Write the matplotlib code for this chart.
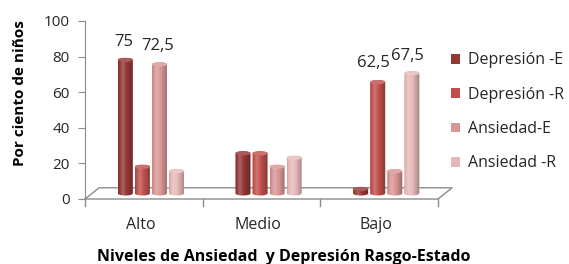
import matplotlib.pyplot as plt
import matplotlib.patches as patches
from matplotlib.path import Path
import matplotlib.colors as mcolors
import numpy as np

# ---------------------------------------------------------
# data
# ---------------------------------------------------------
categories = ['Alto', 'Medio', 'Bajo']
series_names = ['Depresión -E', 'Depresión -R', 'Ansiedad-E', 'Ansiedad -R']
depresion_e = [75, 22.5, 2.5]
depresion_r = [15, 22.5, 62.5]
ansiedad_e = [72.5, 15, 12.5]
ansiedad_r = [12.5, 20, 67.5]
# which bars carry a value label: (series index, category index, text)
value_labels = [(0, 0, '75'), (2, 0, '72,5'), (1, 2, '62,5'), (3, 2, '67,5')]

COLORS = ['#953735', '#C0504D', '#D99694', '#E6B9B8']
label_offsets = {(0, 0): (-1, 11), (2, 0): (-1, 12), (1, 2): (-3, 12), (3, 2): (-3, 11)}

FONT = 'Open Sans'
GRAY = '#8c8c8c'
TXT = '#262626'

# 3d look: depth shift of the floor (x in category units, y in percent)
DX, DY = 0.12, 6.3
BAR_W, BAR_STEP = 0.128, 0.145
EH = 1.2  # half height of the ellipse caps


def shade(color, k):
    c = np.array(mcolors.to_rgb(color))
    if k >= 0:
        return c + (1 - c) * k
    return c * (1 + k)


def cylinder(ax, xc, base, top, color):
    x0, x1 = xc - BAR_W / 2, xc + BAR_W / 2
    t1 = np.linspace(np.pi, 2 * np.pi, 30)
    t2 = np.linspace(0, np.pi, 30)
    verts = [(xc + BAR_W / 2 * np.cos(t), base + EH * np.sin(t)) for t in t1]
    verts += [(xc + BAR_W / 2 * np.cos(t), top + EH * np.sin(t)) for t in t2]
    verts.append(verts[0])
    codes = [Path.MOVETO] + [Path.LINETO] * (len(verts) - 2) + [Path.CLOSEPOLY]
    outline = patches.PathPatch(Path(verts, codes), facecolor='none', edgecolor='none')
    ax.add_patch(outline)

    # horizontal gradient across the cylinder body
    ts = np.linspace(0, 1, 60)
    ks = np.interp(ts, [0, 0.3, 0.55, 1], [-0.12, 0.22, 0.0, -0.3])
    img = np.array([[shade(color, k) for k in ks]])
    im = ax.imshow(img, extent=[x0, x1, base - EH, top + EH], aspect='auto',
                   interpolation='bilinear', zorder=3)
    im.set_clip_path(outline)

    cap = patches.Ellipse((xc, top), BAR_W, 2 * EH, facecolor=shade(color, 0.18),
                          edgecolor='none', zorder=4)
    ax.add_patch(cap)


fig = plt.figure(figsize=(5.69, 2.64), dpi=100)
ax = fig.add_axes([85 / 569, 65 / 264, 353 / 569, 178 / 264])
ax.set_xlim(0, 3)
ax.set_ylim(0, 100)

for s in ['top', 'right', 'bottom']:
    ax.spines[s].set_visible(False)
ax.spines['left'].set_color(GRAY)
ax.spines['left'].set_bounds(0, 100)

ax.set_yticks(range(0, 101, 20))
ax.tick_params(axis='y', length=5, color=GRAY, labelsize=11, pad=6)
for lbl in ax.get_yticklabels():
    lbl.set_fontfamily(FONT)
    lbl.set_color(TXT)

ax.set_xticks([0.476, 1.47, 2.47])
ax.set_xticklabels(categories, fontsize=11.5, fontfamily=FONT, color=TXT)
ax.tick_params(axis='x', length=0, pad=13)
for xb in range(4):
    ax.plot([xb, xb], [0, -3.8], color=GRAY, lw=1, clip_on=False)

# floor
floor_x = [0, 3, 3 + DX, DX, 0]
floor_y = [0, 0, DY, DY, 0]
ax.plot(floor_x, floor_y, color=GRAY, lw=1, clip_on=False, zorder=2)

series = [depresion_e, depresion_r, ansiedad_e, ansiedad_r]
for i, vals in enumerate(series):
    for j, v in enumerate(vals):
        xc = j + 0.5 + DX / 2 + (i - 1.5) * BAR_STEP
        cylinder(ax, xc, DY / 2, DY / 2 + v, COLORS[i])

for i, j, txt in value_labels:
    xc = j + 0.5 + DX / 2 + (i - 1.5) * BAR_STEP
    top = DY / 2 + series[i][j] + EH
    ax.annotate(txt, (xc, top), xytext=label_offsets[(i, j)], textcoords='offset points',
                ha='center', va='center', fontsize=12, fontfamily=FONT, color=TXT)

fig.text(20 / 569, 1 - 93 / 264, 'Por ciento de niños', rotation=90,
         ha='center', va='center', fontsize=11, fontweight='bold', fontfamily=FONT)
fig.text(284 / 569, 1 - 257 / 264, 'Niveles de Ansiedad  y Depresión Rasgo-Estado',
         ha='center', va='center', fontsize=11.5, fontweight='bold', fontfamily=FONT)

handles = [patches.Patch(facecolor=c) for c in COLORS]
leg = fig.legend(handles, series_names, loc='upper left', bbox_to_anchor=(437 / 569, 1 - 38 / 264),
                 frameon=False, handlelength=0.55, handleheight=0.55,
                 handletextpad=0.5, labelspacing=1.15, prop={'family': FONT, 'size': 11.5})
for t in leg.get_texts():
    t.set_color(TXT)

fig.savefig('out.png', dpi=100)
